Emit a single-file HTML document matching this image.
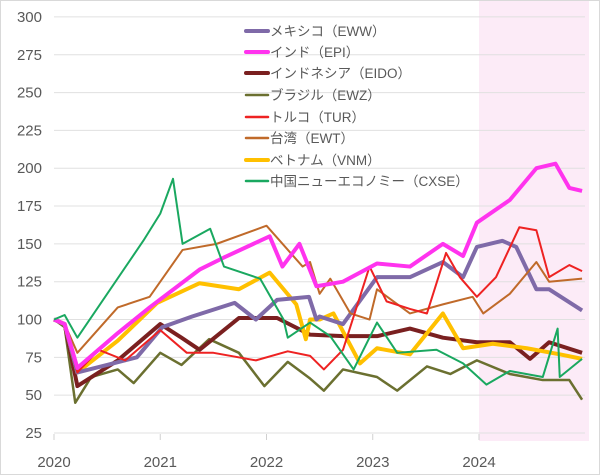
<!DOCTYPE html>
<html><head><meta charset="utf-8"><style>
html,body{margin:0;padding:0;background:#fff}
svg{display:block;font-family:"Liberation Sans","Noto Sans CJK JP",sans-serif}
</style></head><body>
<svg id="chart" width="600" height="475" viewBox="0 0 600 475">
<rect x="0.5" y="0.5" width="599" height="474" fill="#fff" stroke="#d9d9d9"/>
<rect x="479" y="1" width="110" height="440" fill="#fcebf7"/>
<g id="grid"></g><g id="series"></g><g id="legend"></g>
</svg>
<script>
const ewwT=[2020.0,2020.1,2020.22,2020.5,2020.78,2021.02,2021.3,2021.7,2021.9,2022.1,2022.4,2022.47,2022.5,2022.72,2023.04,2023.35,2023.66,2023.85,2023.98,2024.22,2024.35,2024.54,2024.66,2024.97];
const ewwV=[100,97,65,70,75,95,102,111,100,113,115,100,102,97,128,128,138,128,148,152,148,120,120,106];
const epiT=[2020,2020.1,2020.22,2020.6,2020.9,2021.37,2021.6,2022.03,2022.15,2022.31,2022.47,2022.72,2023.04,2023.35,2023.66,2023.85,2023.98,2024.29,2024.54,2024.72,2024.85,2024.97];
const epiV=[100,97,68,91,108,133,141,155,135,150,122,125,137,135,150,142,164,179,200,203,187,185];
const eidoT=[2020,2020.1,2020.22,2020.6,2021.0,2021.2,2021.37,2021.74,2022.1,2022.41,2022.72,2023.04,2023.35,2023.66,2023.98,2024.29,2024.48,2024.66,2024.97];
const eidoV=[100,97,56,73,97,88,80,101,101,90,89,89,94,88,85,85,74,85,78];
const ewzT=[2020,2020.1,2020.2,2020.35,2020.6,2020.75,2021.0,2021.2,2021.46,2021.74,2021.98,2022.2,2022.41,2022.54,2022.72,2023.04,2023.23,2023.51,2023.73,2023.98,2024.29,2024.6,2024.85,2024.97];
const ewzV=[100,95,45,62,67,58,78,70,87,78,56,72,61,53,67,62,53,69,64,73,64,60,60,47];
const turT=[2020,2020.1,2020.22,2020.42,2020.67,2021.0,2021.25,2021.5,2021.9,2022.2,2022.41,2022.54,2022.72,2022.97,2023.13,2023.35,2023.51,2023.69,2023.82,2023.98,2024.16,2024.38,2024.54,2024.66,2024.85,2024.97];
const turV=[100,97,65,80,73,93,78,78,73,79,76,67,80,135,112,107,104,144,128,115,128,161,159,128,136,132];
const ewtT=[2020,2020.1,2020.22,2020.6,2020.9,2021.21,2021.53,2022.0,2022.34,2022.41,2022.5,2022.6,2022.79,2022.97,2023.04,2023.35,2023.66,2023.94,2024.04,2024.29,2024.54,2024.66,2024.97];
const ewtV=[100,97,78,108,115,146,150,162,135,138,117,127,104,100,120,104,110,115,104,117,138,125,127];
const vnmT=[2020,2020.1,2020.22,2020.6,2020.97,2021.37,2021.74,2022.03,2022.28,2022.37,2022.41,2022.5,2022.63,2022.88,2023.04,2023.35,2023.66,2023.85,2024.13,2024.45,2024.76,2024.97];
const vnmV=[100,97,65,86,111,124,120,131,110,87,100,100,104,71,81,77,104,81,84,81,77,74];
const cxseT=[2020,2020.1,2020.22,2020.84,2021.0,2021.12,2021.21,2021.47,2021.6,2021.94,2022.16,2022.2,2022.41,2022.6,2022.82,2023.04,2023.23,2023.6,2023.85,2024.07,2024.29,2024.6,2024.74,2024.76,2024.97];
const cxseV=[100,103,88,152,170,193,150,160,135,127,100,88,98,89,67,98,78,80,71,57,66,62,94,62,74];
const yTicks=[25,50,75,100,125,150,175,200,225,250,275,300];
const xTicks=[2020,2021,2022,2023,2024];
const names=["メキシコ（EWW）","インド（EPI）","インドネシア（EIDO）","ブラジル（EWZ）","トルコ（TUR）","台湾（EWT）","ベトナム（VNM）","中国ニューエコノミー（CXSE）"];
const seriesT=[ewwT,epiT,eidoT,ewzT,turT,ewtT,vnmT,cxseT];
const seriesV=[ewwV,epiV,eidoV,ewzV,turV,ewtV,vnmV,cxseV];
const colors=["#7f6aa8","#ff33ee","#7a2020","#6b7030","#ee2222","#c06a2a","#ffc000","#1aa860"];
const widths=[4,4,4,2.5,2,2,4,2];
const drawOrder=[3,2,6,0,5,4,1,7];
const X=t=>54+(t-2020)*106.25;
const Y=v=>433-(v-25)*1.513;
const NS="http://www.w3.org/2000/svg";
const grid=document.getElementById('grid');
yTicks.forEach(v=>{
 const l=document.createElementNS(NS,'line');
 
 
 l.setAttribute('x1',54);l.setAttribute('x2',585);l.setAttribute('y1',Y(v));l.setAttribute('y2',Y(v));
 l.setAttribute('stroke','#e0e0e0');grid.appendChild(l);
 const t=document.createElementNS(NS,'text');
 
 
 t.setAttribute('x',42);t.setAttribute('y',Y(v)+5);t.setAttribute('text-anchor','end');
 t.setAttribute('font-size','15');t.setAttribute('fill','#595959');t.textContent=v;grid.appendChild(t);
});
xTicks.forEach(y=>{
 const l=document.createElementNS(NS,'line');
 
 
 l.setAttribute('x1',X(y));l.setAttribute('x2',X(y));l.setAttribute('y1',434);l.setAttribute('y2',440);
 l.setAttribute('stroke','#d0d0d0');grid.appendChild(l);
 const t=document.createElementNS(NS,'text');
 
 
 t.setAttribute('x',X(y));t.setAttribute('y',467);t.setAttribute('text-anchor','middle');
 t.setAttribute('font-size','15');t.setAttribute('fill','#595959');t.textContent=y;grid.appendChild(t);
});
const sg=document.getElementById('series');
drawOrder.forEach(i=>{
 const p=document.createElementNS(NS,'polyline');
 
 
 p.setAttribute('points',seriesV[i].map((v,k)=>X(seriesT[i][k])+','+Y(v)).join(' '));
 p.setAttribute('fill','none');p.setAttribute('stroke',colors[i]);p.setAttribute('stroke-width',widths[i]);
 p.setAttribute('stroke-linejoin','round');sg.appendChild(p);
});
const lg=document.getElementById('legend');
const rowsY=[31,52,73,95,117,138,160,181];
names.forEach((n,i)=>{
 const l=document.createElementNS(NS,'line');
 
 
 l.setAttribute('x1',246);l.setAttribute('x2',268);l.setAttribute('y1',rowsY[i]);l.setAttribute('y2',rowsY[i]);
 l.setAttribute('stroke',colors[i]);l.setAttribute('stroke-width',Math.max(widths[i],2.5));l.setAttribute('stroke-linecap','round');lg.appendChild(l);
 const t=document.createElementNS(NS,'text');
 
 
 t.setAttribute('x',270);t.setAttribute('y',rowsY[i]+5);t.setAttribute('font-size','13.5');t.setAttribute('fill','#595959');
 t.textContent=n;lg.appendChild(t);
});
</script>
</body></html>
